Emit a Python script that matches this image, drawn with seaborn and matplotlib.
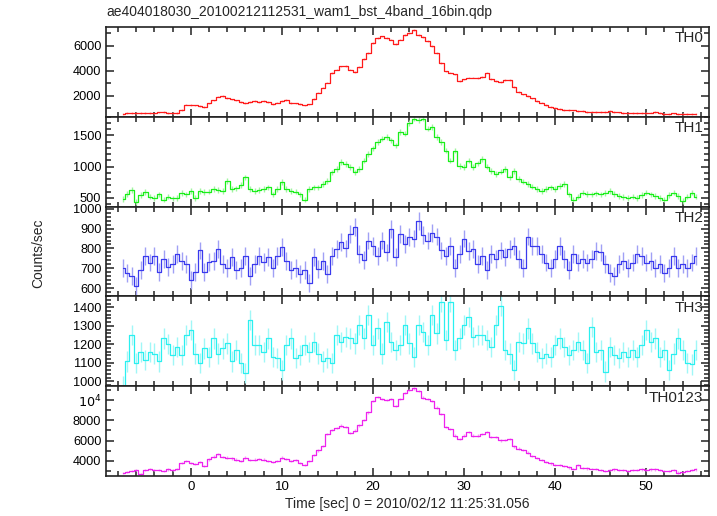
import numpy as np
import pandas as pd
import seaborn as sns
import matplotlib
matplotlib.use("Agg")
import matplotlib.pyplot as plt
from matplotlib.ticker import MultipleLocator, FuncFormatter

# time bins: 0.5 s, from -7.5 s to 55.5 s (127 bins)
t = np.arange(-7.5, 55.75, 0.5)

th0 = [560, 590, 620, 640, 600, 590, 610, 580, 660, 690,
       610, 600, 640, 880, 1290, 1250, 1220, 1180, 1080, 1380,
       1620, 1930, 1980, 1800, 1700, 1620, 1500, 1400, 1500, 1560,
       1480, 1560, 1500, 1330, 1450, 1600, 1680, 1430, 1380, 1320,
       1220, 1300, 1750, 2250, 2650, 3050, 3800, 4100, 4350, 4400,
       4100, 3900, 4300, 4950, 5400, 6200, 6650, 6750, 6650, 6500,
       6150, 6500, 6850, 7050, 7250, 6850, 6700, 6400, 6000, 5450,
       4600, 3950, 3850, 3700, 3150, 3300, 3450, 3450, 3400, 3500,
       3850, 3350, 3200, 3100, 3250, 3250, 2700, 2300, 2100, 1950,
       1780, 1600, 1450, 1250, 1120, 1010, 950, 880, 850, 820,
       800, 770, 720, 690, 670, 690, 720, 750, 700, 660,
       640, 620, 600, 640, 620, 610, 650, 670, 620, 560,
       540, 580, 560, 540, 550, 560, 530]

th1 = [480, 560, 620, 430, 540, 590, 520, 500, 555, 470,
       520, 490, 500, 580, 555, 610, 500, 610, 590, 600,
       637, 625, 610, 770, 637, 650, 700, 826, 637, 610,
       620, 637, 665, 555, 637, 755, 637, 610, 600, 555,
       470, 637, 665, 665, 718, 770, 906, 960, 1070, 1040,
       990, 906, 960, 1095, 1200, 1290, 1393, 1447, 1474, 1420,
       1338, 1555, 1528, 1700, 1770, 1745, 1770, 1608, 1635, 1474,
       1393, 1257, 1095, 1257, 1014, 990, 1095, 990, 1050, 1122,
       1000, 933, 880, 920, 960, 826, 933, 800, 760, 718,
       680, 637, 610, 640, 665, 637, 690, 718, 555, 470,
       520, 583, 560, 555, 570, 555, 580, 610, 560, 528,
       515, 500, 520, 500, 540, 583, 555, 528, 500, 470,
       540, 583, 528, 446, 520, 583, 518]

th2 = [700, 677, 660, 610, 690, 760, 729, 763, 680, 746,
       705, 720, 772, 737, 720, 640, 680, 790, 680, 730,
       737, 797, 720, 703, 755, 690, 703, 763, 660, 720,
       760, 730, 755, 700, 763, 806, 737, 690, 703, 669,
       690, 626, 755, 695, 737, 670, 763, 797, 831, 800,
       874, 908, 772, 740, 840, 814, 760, 840, 780, 900,
       755, 874, 823, 857, 850, 940, 866, 840, 880, 860,
       790, 760, 814, 700, 772, 850, 789, 797, 720, 763,
       690, 772, 746, 790, 755, 797, 814, 746, 703, 860,
       814, 814, 772, 729, 703, 746, 814, 746, 690, 772,
       729, 746, 729, 746, 789, 780, 720, 677, 660, 720,
       737, 703, 729, 772, 763, 729, 737, 703, 720, 677,
       703, 763, 703, 720, 703, 729, 763]

th3 = [975, 1107, 1250, 1100, 1160, 1115, 1160, 1150, 1107, 1232,
       1200, 1142, 1187, 1142, 1250, 1278, 1150, 1100, 1178, 1133,
       1232, 1150, 1178, 1205, 1107, 1170, 1100, 1043, 1330, 1196,
       1196, 1160, 1232, 1133, 1124, 1061, 1196, 1232, 1124, 1142,
       1196, 1160, 1214, 1150, 1107, 1124, 1100, 1250, 1214, 1241,
       1232, 1205, 1304, 1232, 1359, 1196, 1286, 1150, 1322, 1214,
       1170, 1196, 1304, 1205, 1133, 1304, 1268, 1196, 1359, 1259,
       1430, 1223, 1430, 1170, 1232, 1304, 1349, 1241, 1250, 1250,
       1223, 1187, 1304, 1410, 1170, 1150, 1061, 1214, 1205, 1286,
       1205, 1160, 1124, 1150, 1133, 1196, 1232, 1187, 1142, 1170,
       1214, 1170, 1100, 1295, 1160, 1170, 1052, 1187, 1142, 1124,
       1160, 1133, 1170, 1133, 1196, 1278, 1214, 1232, 1133, 1170,
       1061, 1150, 1232, 1170, 1100, 1091, 1170]

th0123 = [2750, 2900, 2950, 3070, 2700, 3100, 3170, 3100, 3070, 3000,
          3130, 3100, 3170, 3800, 3950, 3790, 3700, 3890, 3460, 4120,
          4400, 4640, 4380, 4300, 4220, 4100, 3990, 4310, 4060, 4100,
          4150, 4100, 3950, 3890, 3990, 4310, 4150, 3950, 4060, 3800,
          3560, 3950, 4540, 5030, 5450, 6670, 7060, 7250, 7480, 7320,
          6730, 6990, 7500, 8040, 8790, 9930, 10320, 10100, 10000, 10100,
          9440, 10100, 10740, 11000, 11180, 10900, 10260, 10100, 9930, 9280,
          8630, 7320, 7150, 6500, 6180, 6500, 6830, 6500, 6500, 6670,
          6830, 6340, 6340, 6020, 6080, 6180, 5420, 5200, 5090, 4800,
          4440, 4250, 4060, 3850, 3730, 3600, 3560, 3450, 3330, 3150,
          3560, 3300, 3230, 3200, 3170, 3100, 3000, 3050, 3130, 3080,
          3050, 3000, 3050, 3100, 3130, 3100, 3130, 3130, 3050, 2970,
          2970, 3070, 2810, 2900, 2970, 3050, 3130]

names = ["TH0", "TH1", "TH2", "TH3", "TH0123"]
series = [th0, th1, th2, th3, th0123]
errs = [70, 45, 45, 55, 120]  # typical 1-sigma error per band

colors = ["#ff1a1a", "#1aee1a", "#3a3aee", "#2af0f0", "#ee22ee"]
ecolors = ["#ffa0a0", "#a0f5a0", "#a0a0f5", "#a0f7f7", "#f5a0f5"]
ylims = [(320, 7520), (360, 1800), (558, 1012), (973, 1460), (2480, 11400)]
ymajor = [2000, 500, 100, 100, 2000]
yminor = [1000, 100, 20, 20, 1000]

sns.set_style("ticks")
plt.rcParams["font.family"] = ["Liberation Sans", "DejaVu Sans"]

fig, axes = plt.subplots(5, 1, sharex=True, figsize=(7.17, 5.16), dpi=100)
fig.subplots_adjust(left=0.148, right=0.989, top=0.948, bottom=0.0775, hspace=0)

for ax, name, vals, err, c, ec, yl, ma, mi in zip(axes, names, series, errs, colors,
                                                  ecolors, ylims, ymajor, yminor):
    df = pd.DataFrame({"time": t, "rate": vals})
    ax.errorbar(df["time"], df["rate"], yerr=err, fmt="none", ecolor=ec,
                elinewidth=1.0, zorder=1)
    sns.lineplot(data=df, x="time", y="rate", ax=ax, color=c, lw=0.9,
                 drawstyle="steps-mid", zorder=2)
    ax.set_ylim(*yl)
    ax.set_xlim(-9.3, 56.9)
    ax.set_xlabel("")
    ax.set_ylabel("")
    ax.yaxis.set_major_locator(MultipleLocator(ma))
    ax.yaxis.set_minor_locator(MultipleLocator(mi))
    ax.xaxis.set_major_locator(MultipleLocator(10))
    ax.xaxis.set_minor_locator(MultipleLocator(2))
    ax.tick_params(which="both", direction="in", top=True, right=True,
                   labelsize=9.5, width=1.1, colors="#222222", labelcolor="black")
    ax.tick_params(axis="y", labelsize=9.2)
    ax.tick_params(which="major", length=6)
    ax.tick_params(which="minor", length=3.5)
    for s in ax.spines.values():
        s.set_linewidth(1.2)
        s.set_color("#222222")
    ax.text(0.99, 0.95, name, transform=ax.transAxes, ha="right", va="top",
            fontsize=11)

axes[-1].yaxis.set_major_formatter(
    FuncFormatter(lambda v, p: r"$10^4$" if v == 10000 else f"{int(v)}"))
axes[-1].set_xlabel("Time [sec] 0 = 2010/02/12 11:25:31.056", fontsize=10, labelpad=3)

fig.text(106 / 717, 1 - 12 / 516, "ae404018030_20100212112531_wam1_bst_4band_16bin.qdp",
         ha="left", va="center", fontsize=10)
fig.text(38 / 717, 0.51, "Counts/sec", rotation=90, ha="center", va="center", fontsize=10)

fig.savefig("out.png", dpi=100)
